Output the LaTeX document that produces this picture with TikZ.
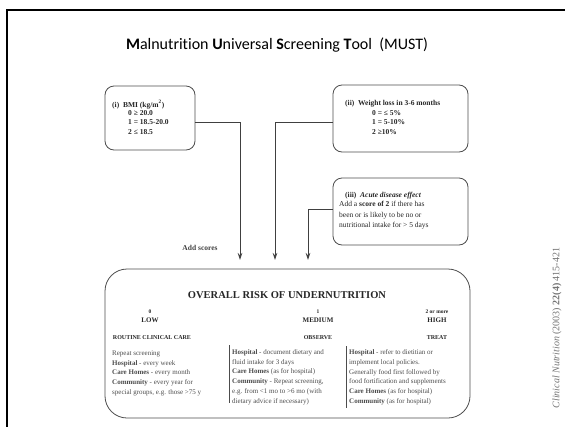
\documentclass[tikz,border=0pt]{standalone}
\usepackage{fontspec}
\setmainfont{Liberation Serif}
\newfontfamily\calibri[Ligatures=NoCommon]{Carlito}
\usetikzlibrary{arrows.meta}
\begin{document}
\begin{tikzpicture}[x=1pt,y=-1pt,
  box/.style={draw=black!70, line width=0.8pt, rounded corners=9pt, inner sep=0},
  conn/.style={draw=black!75, line width=0.9pt},
  arr/.style={conn, -{Stealth[length=7pt,width=4.5pt]}},
  lbl/.style={inner sep=0, text=black!85},
  bodytxt/.style={lbl, anchor=north west, align=left, text=black!70, font=\fontsize{7}{9.7}\selectfont},
  boxhead/.style={lbl, anchor=base west, font=\bfseries\fontsize{7.5}{9.3}\selectfont},
  colhead/.style={lbl, font=\bfseries\fontsize{7}{8}\selectfont},
  colnum/.style={lbl, font=\bfseries\fontsize{5.5}{7}\selectfont},
  bar/.style={draw=black!70, line width=0.8pt}]
\useasboundingbox (0,0) rectangle (565,426);
\draw[line width=2pt] (7,440) -- (7,10) -- (580,10);

\node[inner sep=0, font=\calibri\fontsize{16}{19}\selectfont] (title) at (277,45)
  {\textbf{M}alnutrition \textbf{U}niversal \textbf{S}creening \textbf{T}ool\ \ (MUST)};

% input boxes
\node[box, minimum width=90, minimum height=64] (bmi) at (150,118) {};
\node[boxhead] (bmih) at (112,107) {(i)\ \ BMI (kg/m\textsuperscript{2})};
\node[lbl, anchor=north west, align=left, font=\bfseries\fontsize{7.5}{9.3}\selectfont] (bmiv) at (128,110.5)
  {0 ≥ 20.0\\1 = 18.5-20.0\\2 ≤ 18.5};

\node[box, minimum width=135, minimum height=67] (wl) at (400.5,118.5) {};
\node[boxhead] (wlh) at (345,105.5) {(ii)\ \ Weight loss in 3-6 months};
\node[lbl, anchor=north west, align=left, font=\bfseries\fontsize{7.5}{9.3}\selectfont] (wlv) at (372,110.5)
  {0 = ≤ 5\%\\1 = 5-10\%\\2 ≥10\%};

\node[box, minimum width=135, minimum height=67] (acute) at (400.5,211.5) {};
\node[boxhead] (acuteh) at (345,197.5) {(iii)\ \ \textit{Acute disease effect}};
\node[lbl, anchor=north west, align=left, font=\fontsize{7.5}{10.5}\selectfont] (acutev) at (339,201.5)
  {Add a \textbf{score of 2} if there has\\been or is likely to be no or\\nutritional intake for > 5 days};

% risk box
\node[box, rounded corners=22pt, minimum width=365, minimum height=149] (risk) at (287.5,343.5) {};
\node[lbl, font=\bfseries\fontsize{10.5}{12}\selectfont] (riskt) at (287,295) {OVERALL RISK OF UNDERNUTRITION};

\coordinate (e1) at (240,260);
\coordinate (e2) at (275,260);
\coordinate (e3) at (308,260);
\draw[arr] (bmi.east |- 0,122) -| (e1);
\draw[arr] (wl.west |- 0,122) -| (e2);
\draw[arr] (acute.west |- 0,209) -| (e3);
\node[lbl, font=\bfseries\fontsize{7.5}{9}\selectfont, text=black!75] (add) at (200,248) {Add scores};

% column headers
\node[colnum] (n0) at (150,312) {0};
\node[colhead] (low) at (150,320) {LOW};
\node[colhead, font=\bfseries\fontsize{6}{7}\selectfont] (rcc) at (152,338) {ROUTINE CLINICAL CARE};
\node[colnum] (n1) at (318,312) {1};
\node[colhead] (med) at (318,320) {MEDIUM};
\node[colhead, font=\bfseries\fontsize{6}{7}\selectfont] (obs) at (318,338) {OBSERVE};
\node[colnum] (n2) at (437,312) {2 or more};
\node[colhead] (high) at (437,320) {HIGH};
\node[colhead, font=\bfseries\fontsize{6}{7}\selectfont] (treat) at (437,338) {TREAT};

% column bodies
\node[bodytxt] (c1) at (112,350.5)
  {Repeat screening\\\textbf{Hospital} - every week\\\textbf{Care Homes} - every month\\\textbf{Community} - every year for\\special groups, e.g. those >75 y};
\node[bodytxt] (c2) at (232,349.5)
  {\textbf{Hospital} - document dietary and\\fluid intake for 3 days\\\textbf{Care Homes} (as for hospital)\\\textbf{Community} - Repeat screening,\\e.g. from <1 mo to >6 mo (with\\dietary advice if necessary)};
\node[bodytxt] (c3) at (349,349.5)
  {\textbf{Hospital} - refer to dietitian or\\implement local policies.\\Generally food first followed by\\food fortification and supplements\\\textbf{Care Homes} (as for hospital)\\\textbf{Community} (as for hospital)};
\draw[bar] (229,345) -- (229,403);
\draw[bar] (346,346) -- (346,408);

% citation
\node[inner sep=0, rotate=90, text=black!55, font=\fontsize{10}{12}\selectfont] (cite) at (557,328)
  {\textit{Clinical Nutrition} (2003) \textbf{22(4)} 415-421};
\end{tikzpicture}
\end{document}
